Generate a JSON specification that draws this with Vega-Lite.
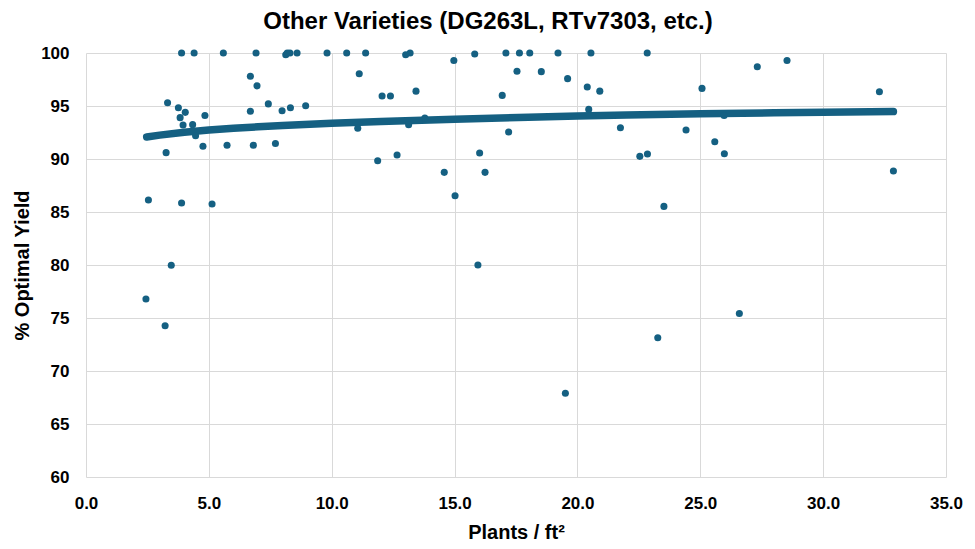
{
  "$schema": "https://vega.github.io/schema/vega-lite/v6.json",
  "width": 860,
  "height": 424,
  "autosize": {"type": "none"},
  "padding": {"left": 86, "top": 53, "right": 29, "bottom": 72},
  "background": "white",
  "title": {
    "text": "Other Varieties (DG263L, RTv7303, etc.)",
    "font": "Liberation Sans",
    "fontSize": 24,
    "fontWeight": "bold",
    "color": "#000000",
    "anchor": "middle",
    "dx": -28,
    "offset": 10
  },
  "datasets": {
    "obs": [
      {"plants": 3.89, "yield": 100}, {"plants": 4.40, "yield": 100}, {"plants": 5.59, "yield": 100},
      {"plants": 6.92, "yield": 100}, {"plants": 8.13, "yield": 99.84}, {"plants": 8.19, "yield": 100},
      {"plants": 8.30, "yield": 100}, {"plants": 8.59, "yield": 100}, {"plants": 9.81, "yield": 100},
      {"plants": 10.61, "yield": 100}, {"plants": 11.38, "yield": 100}, {"plants": 13.01, "yield": 99.84},
      {"plants": 13.19, "yield": 100}, {"plants": 14.97, "yield": 99.3}, {"plants": 15.82, "yield": 99.9},
      {"plants": 17.09, "yield": 100}, {"plants": 17.64, "yield": 100}, {"plants": 18.06, "yield": 100},
      {"plants": 19.21, "yield": 100}, {"plants": 20.55, "yield": 100}, {"plants": 22.84, "yield": 100},
      {"plants": 6.69, "yield": 97.8}, {"plants": 6.96, "yield": 96.9}, {"plants": 3.32, "yield": 95.3},
      {"plants": 3.76, "yield": 94.84}, {"plants": 4.04, "yield": 94.4}, {"plants": 3.83, "yield": 93.9},
      {"plants": 4.84, "yield": 94.1}, {"plants": 6.69, "yield": 94.5}, {"plants": 7.42, "yield": 95.2},
      {"plants": 7.98, "yield": 94.56}, {"plants": 8.32, "yield": 94.84}, {"plants": 8.94, "yield": 95.03},
      {"plants": 3.95, "yield": 93.2}, {"plants": 4.34, "yield": 93.24}, {"plants": 4.46, "yield": 92.2},
      {"plants": 11.06, "yield": 92.9}, {"plants": 4.76, "yield": 91.2}, {"plants": 5.74, "yield": 91.3},
      {"plants": 6.81, "yield": 91.3}, {"plants": 7.71, "yield": 91.47}, {"plants": 3.26, "yield": 90.6},
      {"plants": 11.87, "yield": 89.84}, {"plants": 2.54, "yield": 86.13}, {"plants": 3.89, "yield": 85.85},
      {"plants": 5.13, "yield": 85.75}, {"plants": 11.12, "yield": 98.05},
      {"plants": 12.05, "yield": 95.94}, {"plants": 12.39, "yield": 95.94}, {"plants": 13.43, "yield": 96.4},
      {"plants": 16.94, "yield": 96.0}, {"plants": 17.54, "yield": 98.27}, {"plants": 18.53, "yield": 98.24},
      {"plants": 19.60, "yield": 97.58}, {"plants": 20.40, "yield": 96.8}, {"plants": 20.91, "yield": 96.4},
      {"plants": 20.46, "yield": 94.68}, {"plants": 13.79, "yield": 93.87}, {"plants": 13.13, "yield": 93.24},
      {"plants": 21.75, "yield": 92.95}, {"plants": 17.2, "yield": 92.55}, {"plants": 12.66, "yield": 90.38},
      {"plants": 16.02, "yield": 90.57}, {"plants": 22.54, "yield": 90.25}, {"plants": 22.85, "yield": 90.47},
      {"plants": 14.58, "yield": 88.74}, {"plants": 16.24, "yield": 88.74}, {"plants": 15.02, "yield": 86.54},
      {"plants": 25.07, "yield": 96.66}, {"plants": 27.32, "yield": 98.7}, {"plants": 28.53, "yield": 99.3},
      {"plants": 32.29, "yield": 96.35}, {"plants": 24.42, "yield": 92.74}, {"plants": 25.59, "yield": 91.63},
      {"plants": 25.98, "yield": 90.5}, {"plants": 23.52, "yield": 85.53}, {"plants": 32.86, "yield": 88.87},
      {"plants": 25.97, "yield": 94.1},
      {"plants": 3.47, "yield": 79.97}, {"plants": 2.44, "yield": 76.8}, {"plants": 3.22, "yield": 74.27},
      {"plants": 15.95, "yield": 80.0}, {"plants": 23.27, "yield": 73.14}, {"plants": 19.51, "yield": 67.9},
      {"plants": 26.59, "yield": 75.43}
    ],
    "trend": [
      {"plants": 2.47, "yield": 92.08}, {"plants": 3, "yield": 92.25}, {"plants": 4, "yield": 92.52},
      {"plants": 5, "yield": 92.73}, {"plants": 6, "yield": 92.9}, {"plants": 7, "yield": 93.04},
      {"plants": 8, "yield": 93.16}, {"plants": 10, "yield": 93.37}, {"plants": 12, "yield": 93.54},
      {"plants": 15, "yield": 93.74}, {"plants": 18, "yield": 93.94}, {"plants": 20, "yield": 94.05},
      {"plants": 22, "yield": 94.14}, {"plants": 25, "yield": 94.26}, {"plants": 28, "yield": 94.36},
      {"plants": 30, "yield": 94.41}, {"plants": 32.86, "yield": 94.47}
    ]
  },
  "encoding": {
    "x": {
      "field": "plants",
      "type": "quantitative",
      "scale": {"domain": [0, 35], "nice": false, "zero": false},
      "axis": {
        "title": "Plants / ft²",
        "values": [0, 5, 10, 15, 20, 25, 30, 35],
        "format": ".1f",
        "labelFlush": false,
        "labelPadding": 18,
        "titlePadding": 11
      }
    },
    "y": {
      "field": "yield",
      "type": "quantitative",
      "scale": {"domain": [60, 100], "nice": false, "zero": false},
      "axis": {
        "title": "% Optimal Yield",
        "values": [60, 65, 70, 75, 80, 85, 90, 95, 100],
        "labelFlush": false,
        "labelPadding": 17,
        "titlePadding": 8
      }
    }
  },
  "layer": [
    {
      "data": {"name": "trend"},
      "mark": {"type": "line", "color": "#156082", "strokeWidth": 7.5, "strokeCap": "round", "strokeJoin": "round", "clip": false}
    },
    {
      "data": {"name": "obs"},
      "mark": {"type": "circle", "color": "#156082", "opacity": 1, "size": 50, "clip": false}
    }
  ],
  "config": {
    "view": {"stroke": null},
    "axis": {
      "domain": false,
      "ticks": false,
      "grid": true,
      "gridColor": "#d9d9d9",
      "gridWidth": 1,
      "labelFont": "Liberation Sans",
      "labelFontSize": 17,
      "labelFontWeight": "bold",
      "labelColor": "#000000",
      "titleFont": "Liberation Sans",
      "titleFontSize": 20,
      "titleFontWeight": "bold",
      "titleColor": "#000000"
    }
  }
}
